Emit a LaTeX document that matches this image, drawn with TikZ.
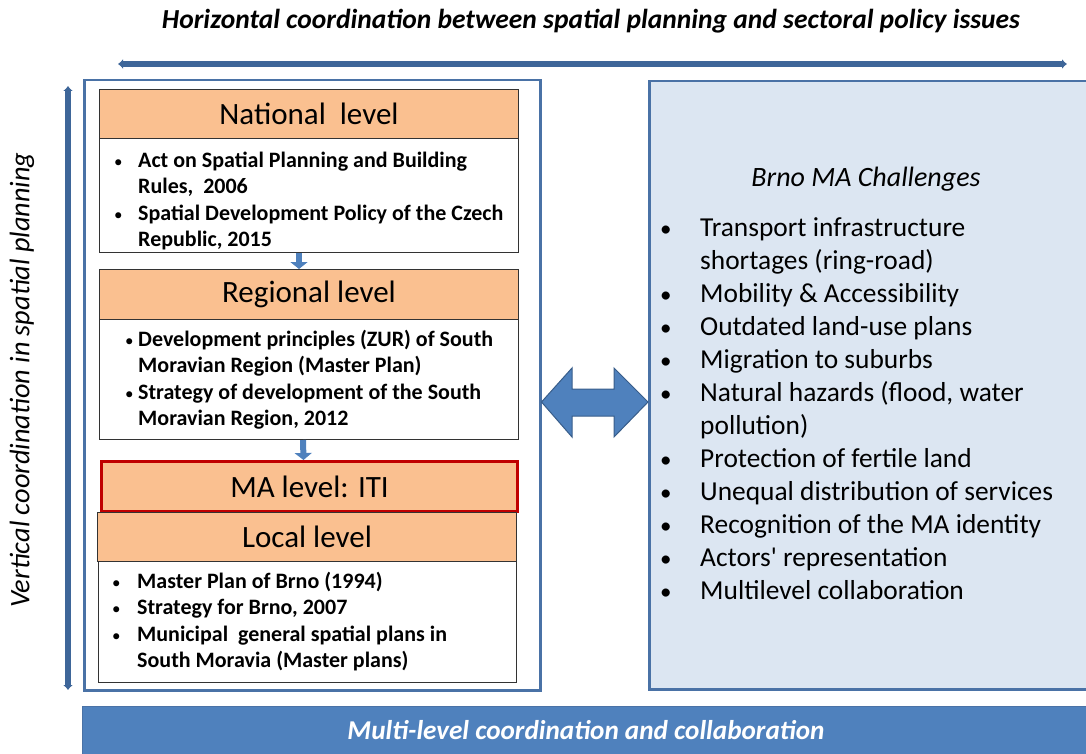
\documentclass[tikz,border=0pt]{standalone}
\usepackage{fontspec}
\setmainfont{Carlito}
\usetikzlibrary{arrows.meta}
\definecolor{orangehdr}{RGB}{250,192,144}
\definecolor{rightfill}{RGB}{220,230,242}
\definecolor{barblue}{RGB}{79,129,189}
\definecolor{darkblue}{RGB}{62,102,153}
\definecolor{frameblue}{RGB}{74,114,166}
\definecolor{edgeblue}{RGB}{56,93,138}
\definecolor{redframe}{RGB}{192,0,0}
\tikzset{
  hdr/.style={draw=black!80, line width=1pt, fill=orangehdr, anchor=north west, inner sep=0pt, font=\fontsize{31}{36}\selectfont},
  body/.style={draw=black!80, line width=1pt, fill=white, anchor=north west, inner sep=0pt},
  bodytext/.style={anchor=north west, inner sep=0pt, align=left},
  longarrow/.style={draw=darkblue, line width=6pt, {Latex[length=5pt,width=10pt]}-{Latex[length=5pt,width=10pt]}},
  smallarrow/.style={draw=barblue, line width=6pt, -{Triangle[length=7pt,width=17pt]}},
}
\newcommand{\bodyfont}{\fontsize{22}{26.3}\selectfont\bfseries}
\newcommand{\rightfont}{\fontsize{27.4}{33}\selectfont}
\newcommand{\lb}{{\fontsize{17}{17}\selectfont\mdseries •}}
\newcommand{\rb}{{\fontsize{23}{23}\selectfont •}}
\begin{document}
\begin{tikzpicture}[x=1pt,y=-1pt]
\useasboundingbox (0,0) rectangle (1086,754);
% title
\node[font=\fontsize{27.5}{32}\selectfont\bfseries\itshape] (title) at (591,21) {Horizontal coordination between spatial planning and sectoral policy issues};
\coordinate (hl) at (118,64);
\coordinate (hr) at (1067,64);
\draw[longarrow] (hl) -- (hr);
% vertical
\coordinate (vt) at (68,86);
\coordinate (vb) at (68,690);
\draw[longarrow] (vt) -- (vb);
\node[rotate=90, font=\fontsize{28.3}{32}\selectfont\itshape] (vtext) at (22,380) {Vertical coordination in spatial planning};
% left frame
\node[draw=frameblue, line width=2.5pt, anchor=north west, minimum width=456pt, minimum height=610pt, inner sep=0pt] (lframe) at (83,79) {};
% right box
\node[draw=frameblue, line width=2.5pt, fill=rightfill, anchor=north west, minimum width=445pt, minimum height=608pt, inner sep=0pt] (rbox) at (648,80) {};
% national
\node[hdr, minimum width=419pt, minimum height=49pt] (nat) at (99,89) {National\ \ level};
\node[body, minimum width=419pt, minimum height=114pt] (natb) at (99,138) {};
\node[bodytext] (natt) at (114,149) {\bodyfont\begin{tabular}{@{}p{24pt}@{}l@{}}
\lb& Act on Spatial Planning and Building\\
 & Rules,\ \ 2006\\
\lb& Spatial Development Policy of the Czech\\
 & Republic, 2015
\end{tabular}};
% regional
\node[hdr, minimum width=419pt, minimum height=50pt] (reg) at (99,269) {Regional level};
\node[body, minimum width=419pt, minimum height=120pt] (regb) at (99,319) {};
\node[bodytext] (regt) at (125,328) {\bodyfont\begin{tabular}{@{}p{13pt}@{}l@{}}
\lb& Development principles (ZUR) of South\\
 & Moravian Region (Master Plan)\\
\lb& Strategy of development of the South\\
 & Moravian Region, 2012
\end{tabular}};
% MA level
\node[hdr, draw=redframe, line width=3pt, minimum width=416pt, minimum height=50pt] (ma) at (100,460) {MA level: ITI};
% local
\node[hdr, minimum width=419pt, minimum height=49pt] (loc) at (97,512) {Local level};
\node[body, minimum width=418pt, minimum height=121pt] (locb) at (98,561) {};
\node[bodytext] (loct) at (112,570) {\bodyfont\begin{tabular}{@{}p{25pt}@{}l@{}}
\lb& Master Plan of Brno (1994)\\
\lb& Strategy for Brno, 2007\\
\lb& Municipal\ \ general spatial plans in\\
 & South Moravia (Master plans)
\end{tabular}};
% small arrows
\draw[smallarrow] ([xshift=-10pt]natb.south) -- ([xshift=-10pt]reg.north);
\draw[smallarrow] ([xshift=-6pt]regb.south) -- ([xshift=-6pt]ma.north);
% right text
\node[font=\fontsize{28}{33}\selectfont\itshape] (rtitle) at (866,179) {Brno MA Challenges};
\node[bodytext] (rlist) at (660,213) {\rightfont\begin{tabular}{@{}p{40pt}@{}l@{}}
\rb& Transport infrastructure\\
 & shortages (ring-road)\\
\rb& Mobility \& Accessibility\\
\rb& Outdated land-use plans\\
\rb& Migration to suburbs\\
\rb& Natural hazards (flood, water\\
 & pollution)\\
\rb& Protection of fertile land\\
\rb& Unequal distribution of services\\
\rb& Recognition of the MA identity\\
\rb& Actors\textquotesingle\ representation\\
\rb& Multilevel collaboration
\end{tabular}};
% big double arrow
\draw[draw=edgeblue, line width=1pt, fill=barblue]
  (lframe.east |- 0,402) -- (572,368) -- (572,389) -- (614,389) -- (614,368) -- (rbox.west |- 0,402)
  -- (614,437) -- (614,416) -- (572,416) -- (572,437) -- cycle;
% bottom bar
\node[draw=frameblue, line width=1pt, fill=barblue, anchor=north west, minimum width=1010pt, minimum height=52pt, inner sep=0pt] (bar) at (82,706) {};
\node[font=\fontsize{27.2}{32}\selectfont\bfseries\itshape, text=white] (bartext) at (586,730) {Multi-level coordination and collaboration};
\end{tikzpicture}
\end{document}
